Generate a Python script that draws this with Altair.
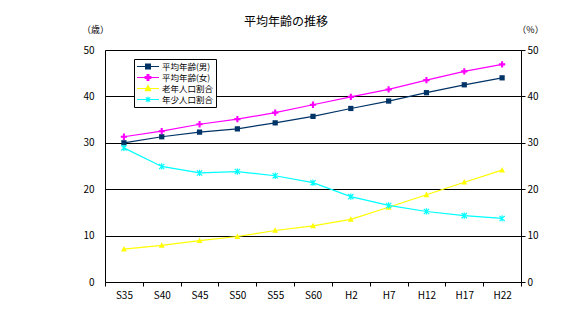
import altair as alt
import pandas as pd

years = ["S35", "S40", "S45", "S50", "S55", "S60", "H2", "H7", "H12", "H17", "H22"]
age_male = [30.0, 31.3, 32.3, 33.0, 34.3, 35.7, 37.4, 39.0, 40.8, 42.5, 44.0]
age_female = [31.3, 32.5, 34.0, 35.1, 36.5, 38.2, 39.9, 41.5, 43.5, 45.4, 46.9]
elderly_ratio = [7.1, 7.9, 8.9, 9.8, 11.1, 12.1, 13.5, 16.1, 18.8, 21.5, 24.1]
youth_ratio = [28.9, 24.9, 23.5, 23.8, 22.9, 21.4, 18.4, 16.5, 15.2, 14.3, 13.7]

names = ["平均年齢(男)", "平均年齢(女)", "老年人口割合", "年少人口割合"]
colors = ["#003366", "#FF00FF", "#FFFF00", "#00FFFF"]

series_values = [age_male, age_female, elderly_ratio, youth_ratio]
rows = []
for name, vals in zip(names, series_values):
    for y, v in zip(years, vals):
        rows.append({"year": y, "series": name, "value": v})
df = pd.DataFrame(rows)

FONT = "Noto Sans CJK JP"

# marker shapes
sq = "M-0.5,-0.5H0.5V0.5H-0.5Z"
plus = "M-0.6,-0.2H-0.2V-0.6H0.2V-0.2H0.6V0.2H0.2V0.6H-0.2V0.2H-0.6Z"
tri = "M0,-0.6L0.55,0.45H-0.55Z"
star = "M-0.5,-0.5L0.5,0.5M-0.5,0.5L0.5,-0.5M0,-0.6V0.6"
chart_shapes = [sq, plus, tri, star]

# legend shapes: line + marker
leg_line = "M-1,0H1"
leg_shapes = [
    leg_line + "M-0.22,-0.22H0.22V0.22H-0.22Z",
    leg_line + "M-0.26,-0.08H-0.08V-0.26H0.08V-0.08H0.26V0.08H0.08V0.26H-0.08V0.08H-0.26Z",
    leg_line + "M0,-0.26L0.24,0.2H-0.24Z",
    leg_line + "M-0.2,-0.2L0.2,0.2M-0.2,0.2L0.2,-0.2M0,-0.26V0.26",
]

xenc = alt.X(
    "year:N",
    sort=years,
    scale=alt.Scale(type="band", domain=years, paddingInner=0, paddingOuter=0),
    axis=alt.Axis(
        title=None, labelAngle=0, tickBand="extent", tickSize=4, tickColor="black",
        domainColor="black", labelFont=FONT, labelFontSize=10, labelColor="black",
        labelPadding=4, grid=False,
    ),
)

left_axis = alt.Axis(
    values=[0, 10, 20, 30, 40, 50], grid=True, gridColor="black", gridWidth=1,
    tickSize=0, labelPadding=11, domainColor="black", labelFont=FONT,
    labelFontSize=10, labelColor="black", title="（歳）", titleAngle=0,
    titleX=-10, titleY=-21, titleAlign="center", titleBaseline="middle",
    titleFont=FONT, titleFontSize=9, titleFontWeight="normal", titleColor="black",
)
right_axis = alt.Axis(
    values=[0, 10, 20, 30, 40, 50], grid=False, orient="right",
    tickSize=4, tickColor="black", labelPadding=2, domainColor="black",
    labelFont=FONT, labelFontSize=10, labelColor="black", title="（%）",
    titleAngle=0, titleX=9, titleY=-21, titleAlign="center",
    titleBaseline="middle", titleFont=FONT, titleFontSize=9,
    titleFontWeight="normal", titleColor="black",
)
yscale = alt.Scale(domain=[0, 50], nice=False, zero=True)


def series_layer(i, axis):
    name = names[i]
    base = alt.Chart(df).transform_filter(alt.datum.series == name)
    line = base.mark_line(color=colors[i], strokeWidth=1.2).encode(
        x=xenc, y=alt.Y("value:Q", scale=yscale, axis=axis)
    )
    pts = base.mark_point(
        shape=chart_shapes[i], size=110, filled=(i in (0, 1, 2)),
        color=colors[i], opacity=1, strokeWidth=1.2,
    ).encode(x=xenc, y=alt.Y("value:Q", scale=yscale, axis=axis))
    return line + pts


leg_props = dict(
    title=None, orient="none", legendX=29, legendY=9, fillColor="white",
    strokeColor="black", padding=2, labelFont=FONT, labelFontSize=8.5,
    labelColor="black", labelOffset=2, symbolSize=484, clipHeight=11,
    rowPadding=0, symbolStrokeWidth=1.2,
)
legend_layer = (
    alt.Chart(df)
    .transform_filter("datum.value < 0")
    .mark_point(filled=True, opacity=1)
    .encode(
        color=alt.Color("series:N", scale=alt.Scale(domain=names, range=colors),
                        legend=alt.Legend(**leg_props)),
        stroke=alt.Stroke("series:N", scale=alt.Scale(domain=names, range=colors),
                          legend=alt.Legend(**leg_props)),
        shape=alt.Shape("series:N", scale=alt.Scale(domain=names, range=leg_shapes),
                        legend=alt.Legend(**leg_props)),
    )
)

left_group = alt.layer(series_layer(0, left_axis), series_layer(1, left_axis), legend_layer)
right_group = alt.layer(series_layer(2, right_axis), series_layer(3, right_axis))

chart = (
    alt.layer(left_group, right_group)
    .resolve_scale(y="independent")
    .properties(
        width=416,
        height=232,
        padding={"left": 105, "top": 50, "right": 53, "bottom": 42},
        autosize=alt.AutoSizeParams(type="none"),
        title=alt.TitleParams(
            "平均年齢の推移", font=FONT, fontSize=12, fontWeight="normal",
            color="black", anchor="middle", dx=-27, offset=-4,
        ),
    )
    .configure_view(stroke="black", strokeWidth=1)
    .configure(background="white")
)

chart.save("out.html", embed_options={"renderer": "svg", "actions": False})
